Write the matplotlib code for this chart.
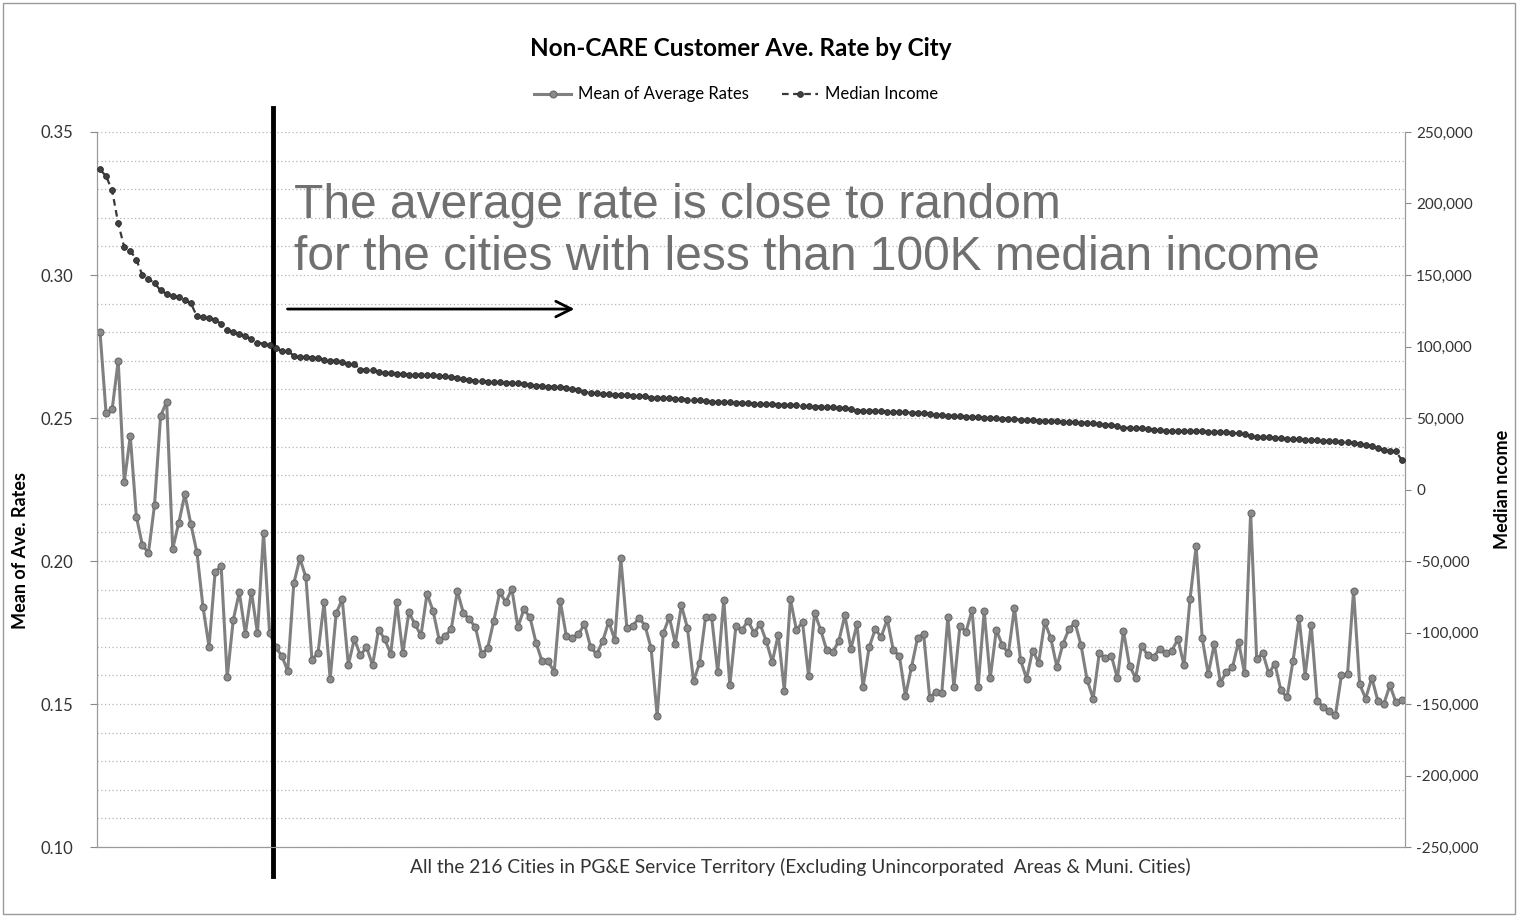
import numpy as np
import matplotlib
matplotlib.use("Agg")
from matplotlib import pyplot as plt
from matplotlib.ticker import FuncFormatter, MultipleLocator
from matplotlib.patches import Rectangle

plt.rcParams['font.family'] = ['Lato', 'DejaVu Sans']

# mean of average rates per city (sorted by median income, high to low)
mean_rates = [
    0.2800, 0.2516, 0.2530, 0.2700, 0.2275, 0.2437, 0.2155, 0.2055, 0.2029, 0.2196,
    0.2507, 0.2557, 0.2043, 0.2133, 0.2233, 0.2129, 0.2030, 0.1840, 0.1700, 0.1960,
    0.1983, 0.1593, 0.1794, 0.1891, 0.1745, 0.1893, 0.1747, 0.2099, 0.1749, 0.1698,
    0.1669, 0.1616, 0.1922, 0.2009, 0.1943, 0.1654, 0.1679, 0.1856, 0.1587, 0.1818,
    0.1866, 0.1637, 0.1727, 0.1670, 0.1699, 0.1636, 0.1760, 0.1727, 0.1676, 0.1856,
    0.1677, 0.1821, 0.1779, 0.1740, 0.1886, 0.1825, 0.1725, 0.1738, 0.1762, 0.1895,
    0.1818, 0.1796, 0.1768, 0.1675, 0.1695, 0.1789, 0.1890, 0.1856, 0.1903, 0.1769,
    0.1831, 0.1803, 0.1714, 0.1649, 0.1649, 0.1613, 0.1860, 0.1737, 0.1732, 0.1744,
    0.1779, 0.1700, 0.1674, 0.1719, 0.1788, 0.1725, 0.2009, 0.1766, 0.1773, 0.1802,
    0.1774, 0.1695, 0.1458, 0.1747, 0.1804, 0.1711, 0.1845, 0.1766, 0.1580, 0.1643,
    0.1805, 0.1803, 0.1611, 0.1865, 0.1565, 0.1772, 0.1759, 0.1791, 0.1749, 0.1779,
    0.1721, 0.1647, 0.1742, 0.1547, 0.1866, 0.1759, 0.1786, 0.1599, 0.1819, 0.1759,
    0.1688, 0.1681, 0.1721, 0.1810, 0.1693, 0.1779, 0.1560, 0.1698, 0.1761, 0.1735,
    0.1796, 0.1688, 0.1668, 0.1528, 0.1630, 0.1731, 0.1745, 0.1522, 0.1543, 0.1540,
    0.1803, 0.1560, 0.1773, 0.1753, 0.1828, 0.1561, 0.1824, 0.1590, 0.1759, 0.1706,
    0.1677, 0.1837, 0.1654, 0.1589, 0.1687, 0.1645, 0.1787, 0.1730, 0.1630, 0.1710,
    0.1762, 0.1784, 0.1705, 0.1584, 0.1519, 0.1677, 0.1660, 0.1669, 0.1590, 0.1756,
    0.1634, 0.1591, 0.1704, 0.1670, 0.1666, 0.1693, 0.1677, 0.1687, 0.1727, 0.1635,
    0.1868, 0.2052, 0.1730, 0.1605, 0.1710, 0.1575, 0.1612, 0.1628, 0.1718, 0.1607,
    0.2169, 0.1656, 0.1679, 0.1607, 0.1641, 0.1548, 0.1523, 0.1651, 0.1801, 0.1599,
    0.1778, 0.1509, 0.1491, 0.1474, 0.1461, 0.1601, 0.1605, 0.1896, 0.1569, 0.1519,
    0.1592, 0.1512, 0.1501, 0.1565, 0.1506, 0.1513,
]

# median household income per city
median_income = [
    223800, 219100, 209100, 186200, 169400, 167100, 160600, 149900, 147300, 144300,
    139200, 136800, 135400, 134500, 132200, 130300, 121000, 120500, 120100, 118700,
    115900, 111200, 110000, 108900, 107500, 105100, 102800, 101900, 100900, 99300,
    96700, 96700, 93700, 92500, 92500, 92300, 92300, 90400, 90200, 90000,
    89000, 87600, 87600, 83900, 83900, 83400, 82500, 81600, 81400, 81100,
    80600, 80400, 80400, 80200, 79900, 79900, 79400, 79200, 78800, 78300,
    77100, 76600, 76200, 75700, 75500, 75300, 75000, 74800, 74600, 74400,
    73600, 73200, 72700, 72500, 72000, 71800, 71600, 71300, 70600, 69700,
    68300, 67800, 67300, 67100, 66600, 66400, 66200, 66000, 65700, 65500,
    65300, 64300, 64000, 64000, 63800, 63400, 63200, 62900, 62500, 62300,
    61800, 61300, 61000, 61000, 61000, 60800, 60600, 60400, 60100, 59900,
    59700, 59700, 59400, 59200, 58900, 58900, 58500, 58300, 58000, 58000,
    57800, 57500, 57300, 56900, 56000, 55200, 55200, 55000, 55000, 54800,
    54500, 54300, 54100, 54100, 53800, 53600, 53400, 52900, 52400, 52000,
    51700, 51500, 51300, 51000, 50800, 50600, 50300, 50100, 49900, 49600,
    49400, 49200, 48900, 48700, 48500, 48200, 48000, 47800, 47600, 47300,
    47100, 47100, 46800, 46600, 46200, 45700, 45400, 45000, 44300, 43300,
    43100, 43100, 42900, 42200, 41700, 41300, 40800, 40800, 40800, 40600,
    40600, 40600, 40600, 40300, 40300, 40100, 39900, 39600, 39400, 38500,
    37500, 36600, 36400, 36400, 36100, 35700, 35400, 35200, 35000, 34700,
    34500, 34300, 34000, 33800, 33600, 33100, 32900, 32400, 31900, 31200,
    30500, 28900, 27500, 27000, 26600, 20300,
]

cities = np.arange(len(mean_rates))

fig = plt.figure(figsize=(15.18, 9.16), dpi=100)
ax = fig.add_axes([0.0639, 0.0753, 0.8617, 0.7806])
ax2 = ax.twinx()

# chart border
fig.patches.append(Rectangle((0.002, 0.002), 0.996, 0.995, transform=fig.transFigure,
                             fill=False, edgecolor='#9a9a9a', linewidth=1))

# rates on the left axis
ax.plot(cities, mean_rates, color='#808080', linewidth=2.2, marker='o', markersize=5,
        markerfacecolor='#8a8a8a', markeredgecolor='#6a6a6a', markeredgewidth=0.8,
        label='Mean of Average Rates', zorder=3)
ax.set_xlim(-0.5, len(cities) - 0.5)
ax.set_ylim(0.10, 0.35)
ax.yaxis.set_major_locator(MultipleLocator(0.05))
ax.yaxis.set_minor_locator(MultipleLocator(0.01))
ax.yaxis.set_major_formatter(FuncFormatter(lambda v, p: '%.2f' % v))
ax.set_xticks([])
ax.grid(axis='y', which='both', color='#b5b5b5', linestyle=(0, (1, 2)), linewidth=0.9)
ax.tick_params(axis='y', which='major', length=5, color='#8a8a8a', labelsize=12,
               labelcolor='#333333', pad=12)
ax.tick_params(axis='y', which='minor', length=0)
ax.set_ylabel('Mean of Ave. Rates', fontsize=13, fontweight='bold')
ax.yaxis.set_label_coords(-0.052, 0.415)
ax.set_xlabel('All the 216 Cities in PG&E Service Territory (Excluding Unincorporated  Areas & Muni. Cities)',
              fontsize=13.8, color='#333333')
ax.xaxis.set_label_coords(0.5375, -0.015)
ax.xaxis.label.set_va('top')

# income on the right axis
ax2.plot(cities, median_income, color='#3a3a3a', linewidth=1.6, linestyle=(0, (3, 2)),
         marker='o', markersize=4.2, markerfacecolor='#404040', markeredgecolor='#2a2a2a',
         markeredgewidth=0.6, label='Median Income', zorder=3)
ax2.set_ylim(-250000, 250000)
ax2.yaxis.set_major_locator(MultipleLocator(50000))
ax2.yaxis.set_major_formatter(FuncFormatter(lambda v, p: '{:,.0f}'.format(v)))
ax2.tick_params(axis='y', length=4, color='#8a8a8a', labelsize=11, labelcolor='#333333', pad=4)
ax2.set_ylabel('Median ncome', fontsize=13, fontweight='bold')
ax2.yaxis.set_label_coords(1.068, 0.5)

for a in (ax, ax2):
    a.spines['top'].set_visible(False)
    a.spines['left'].set_color('#9a9a9a')
    a.spines['right'].set_color('#9a9a9a')
    a.spines['bottom'].set_color('#9a9a9a')

# split between the high income cities and the rest
ax.axvline(28.5, ymin=-0.04, ymax=1.034, color='black', linewidth=3.5, clip_on=False, zorder=5)

ax.text(32, 0.3152, 'The average rate is close to random\nfor the cities with less than 100K median income',
        fontsize=34.5, color='#707070', ha='left', va='center', linespacing=1.2,
        family=['Liberation Sans', 'DejaVu Sans'])
ax.annotate('', xy=(78.8, 0.2881), xytext=(30.5, 0.2881),
            arrowprops=dict(arrowstyle='->', color='black', linewidth=2, mutation_scale=28))

fig.suptitle('Non-CARE Customer Ave. Rate by City', x=0.488, y=0.96, fontsize=17.5,
             fontweight='bold')

h1, l1 = ax.get_legend_handles_labels()
h2, l2 = ax2.get_legend_handles_labels()
fig.legend(h1 + h2, l1 + l2, loc='center', bbox_to_anchor=(0.485, 0.897), ncol=2,
           frameon=False, fontsize=12, handlelength=2.2, handletextpad=0.4, columnspacing=2.0)

fig.savefig('out.png', dpi=100)
